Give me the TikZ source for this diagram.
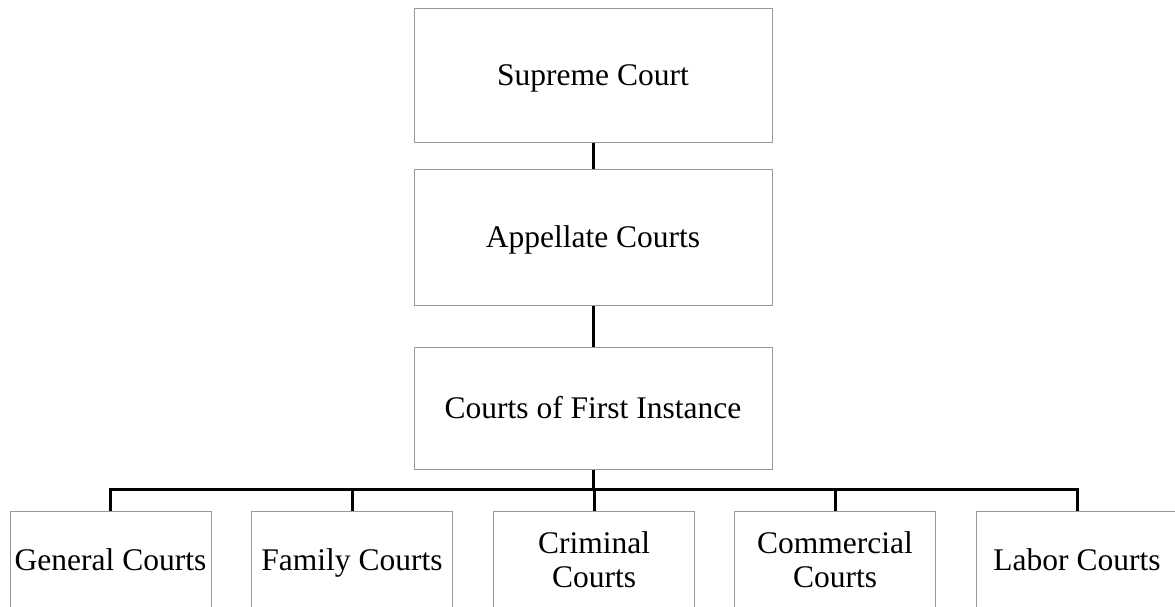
\documentclass[tikz,border=0pt]{standalone}
\usepackage{fontspec}
\setmainfont{Liberation Serif}
\begin{document}
\begin{tikzpicture}[x=1pt,y=-1pt,
  box/.style={draw=black!40, line width=1pt, fill=white, inner sep=0pt, align=center,
    font=\fontsize{31.5}{34}\selectfont},
  onel/.style={box, text height=26pt, text depth=6pt},
  link/.style={line width=3pt, black}]
\useasboundingbox (0,0) rectangle (1175,607);
\clip (0,0) rectangle (1175,607);
\node[onel, minimum width=358pt, minimum height=134pt] (sc) at (593,76) {Supreme Court};
\node[onel, minimum width=358pt, minimum height=136pt] (ac) at (593,237.5) {Appellate Courts};
\node[onel, minimum width=358pt, minimum height=122pt] (fi) at (593,408) {Courts of First Instance};
\node[onel, minimum width=201pt, minimum height=98pt] (gc) at (110.5,560) {General Courts};
\node[onel, minimum width=201pt, minimum height=98pt] (fc) at (352,560) {Family Courts};
\node[box, minimum width=201pt, minimum height=98pt] (cc) at (594,560) {Criminal\\Courts};
\node[box, minimum width=201pt, minimum height=98pt] (mc) at (835,560) {Commercial\\Courts};
\node[onel, minimum width=201pt, minimum height=98pt] (lc) at (1077,560) {Labor Courts};
\coordinate (bus) at (593,489);
\draw[link] (sc.south) -- (ac.north);
\draw[link] (ac.south) -- (fi.north);
\draw[link] (fi.south) -- (bus);
\draw[link] (gc.north) |- (bus) -| (lc.north);
\draw[link] (fc.north) -- (fc.north |- bus);
\draw[link] (cc.north) -- (cc.north |- bus);
\draw[link] (mc.north) -- (mc.north |- bus);
\end{tikzpicture}
\end{document}
